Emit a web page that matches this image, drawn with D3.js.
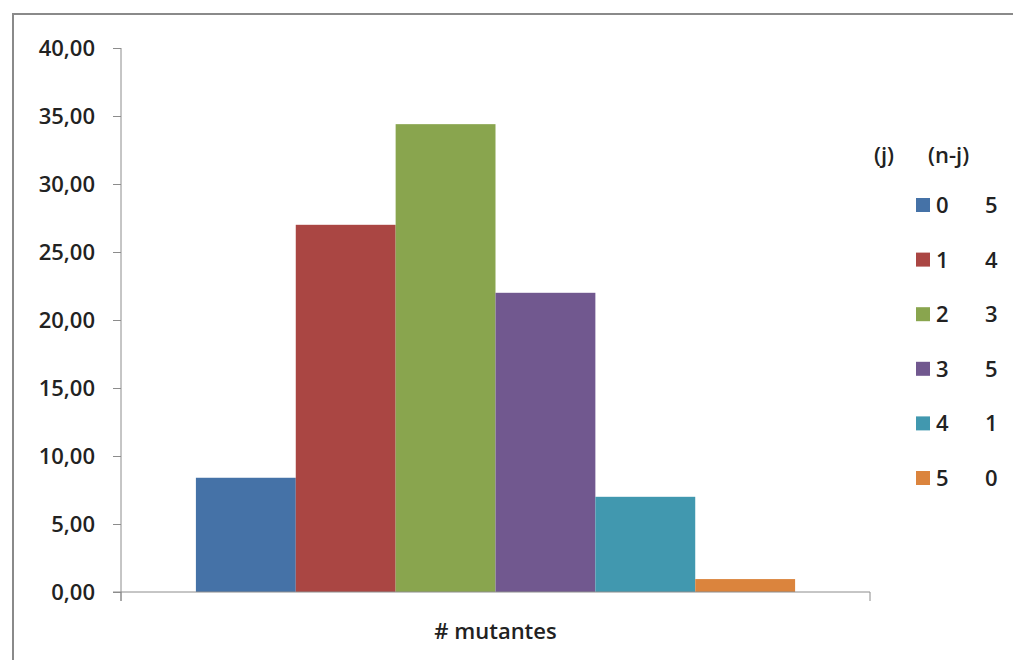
<!DOCTYPE html>
<html>
<head>
<meta charset="utf-8">
<script src="https://cdn.jsdelivr.net/npm/d3@7"></script>
<style>
  html, body { margin: 0; padding: 0; background: #fff; }
  svg text { font-family: "Open Sans", "Liberation Sans", sans-serif; font-weight: 600; fill: #222; }
</style>
</head>
<body>
<svg id="chart" width="1013" height="660"></svg>
<script>
// Categories and values
const category = ["# mutantes"];
const jValues = ["0", "1", "2", "3", "4", "5"];
const nMinusJ = ["5", "4", "3", "5", "1", "0"];
const percentages = [8.40, 27.00, 34.40, 22.00, 7.00, 0.95];
const yTicks = [0, 5, 10, 15, 20, 25, 30, 35, 40];
const seriesColors = ["#4572A7", "#AA4643", "#89A54E", "#71588F", "#4198AF", "#DB843D"];

const svg = d3.select("#chart");
const fontSize = 22;

// Outer frame (cut off at right and bottom edges)
svg.append("rect")
  .attr("x", 13).attr("y", 14)
  .attr("width", 1030).attr("height", 680)
  .attr("fill", "none")
  .attr("stroke", "#8a8a8a")
  .attr("stroke-width", 2);

const plot = { left: 121, right: 870, top: 48, bottom: 592 };

const y = d3.scaleLinear().domain([0, 40]).range([plot.bottom, plot.top]);

const x0 = d3.scaleBand()
  .domain(category)
  .range([plot.left, plot.right])
  .paddingInner(0)
  .paddingOuter(0.125);

const x1 = d3.scaleBand()
  .domain(jValues)
  .range([0, x0.bandwidth()])
  .padding(0);

const fmt = v => d3.format(".2f")(v).replace(".", ",");

// Bars
const bars = svg.append("g")
  .attr("transform", `translate(${x0(category[0])},0)`);
bars.selectAll("rect")
  .data(percentages)
  .join("rect")
  .attr("x", (d, i) => x1(jValues[i]))
  .attr("y", d => y(d))
  .attr("width", x1.bandwidth())
  .attr("height", d => y(0) - y(d))
  .attr("fill", (d, i) => seriesColors[i]);

// Y axis
const yAxis = svg.append("g")
  .attr("transform", `translate(${plot.left},0)`)
  .call(d3.axisLeft(y).tickValues(yTicks).tickFormat(fmt).tickSize(8).tickPadding(18));
yAxis.select(".domain").attr("stroke", "#8c8c8c").attr("d", `M0,${plot.top}V${plot.bottom + 9}`);
yAxis.selectAll(".tick line").attr("stroke", "#8c8c8c");
yAxis.selectAll(".tick text")
  .attr("font-size", fontSize)
  .attr("font-family", null)
  .attr("fill", null)
  .attr("dy", "0.36em");

// X axis
const xAxis = svg.append("g")
  .attr("transform", `translate(0,${plot.bottom})`);
xAxis.append("path")
  .attr("d", `M${plot.left - 8},0H${plot.right}M${plot.left},0V9M${plot.right},0V9`)
  .attr("stroke", "#8c8c8c")
  .attr("fill", "none");
xAxis.append("text")
  .attr("x", x0(category[0]) + x0.bandwidth() / 2)
  .attr("y", 47)
  .attr("text-anchor", "middle")
  .attr("font-size", fontSize)
  .text(category[0]);

// Legend
const legend = svg.append("g");
legend.append("text").attr("x", 874).attr("y", 163).attr("font-size", fontSize).text("(j)");
legend.append("text").attr("x", 928).attr("y", 163).attr("font-size", fontSize).text("(n-j)");

const rowY = d3.scalePoint().domain(jValues).range([205, 478]);
const rows = legend.selectAll("g.row")
  .data(jValues)
  .join("g")
  .attr("class", "row")
  .attr("transform", d => `translate(0,${rowY(d)})`);
rows.append("rect")
  .attr("x", 916).attr("y", -7)
  .attr("width", 14).attr("height", 14)
  .attr("fill", (d, i) => seriesColors[i]);
rows.append("text")
  .attr("x", 936).attr("y", 8)
  .attr("font-size", fontSize)
  .text(d => d);
rows.append("text")
  .attr("x", 985).attr("y", 8)
  .attr("font-size", fontSize)
  .text((d, i) => nMinusJ[i]);
</script>
</body>
</html>
